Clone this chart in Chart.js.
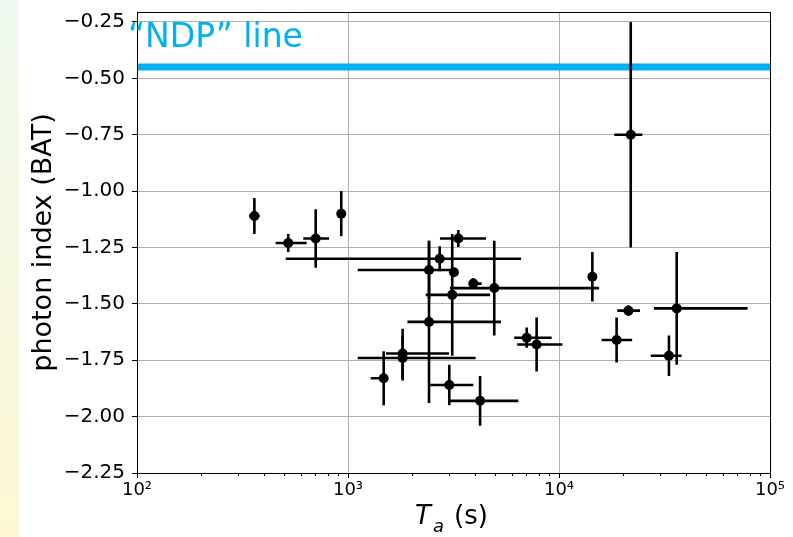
<!DOCTYPE html>
<html>
<head>
<meta charset="utf-8">
<script src="https://cdn.jsdelivr.net/npm/chart.js@4.4.1/dist/chart.umd.min.js"></script>
<style>
body { margin: 0; background: #fff; }
#wrap { position: relative; width: 793px; height: 537px; }
#strip { position: absolute; left: 0; top: 0; width: 19px; height: 537px; background: linear-gradient(#eff9ef, #fef8d4); }
</style>
</head>
<body>
<div id="wrap">
  <canvas id="chart1" width="793" height="537"></canvas>
  <div id="strip"></div>
</div>
<script>
// T_a (s), with the ends of the horizontal error bars
const tA    = [360, 521, 703, 929, 2720, 2421, 2421, 3177, 3119, 3334, 3926, 4934, 1815, 1815, 1476, 3020, 4227, 14390, 21330, 36130, 7030, 7833, 18750, 33190, 21880];
const tLow  = [340, 454, 614, 929, 507, 1112, 1913, 3100, 2335, 2728, 3742, 3041, 1514, 1112, 1282, 2449, 3020, 14100, 18870, 28170, 6135, 6339, 15910, 27230, 18270];
const tHigh = [381, 637, 813, 929, 6607, 3214, 5310, 3260, 4713, 4508, 4302, 15490, 3013, 4026, 1542, 3928, 6413, 14700, 24200, 78300, 9228, 10380, 22220, 38110, 24830];
// photon index (BAT) and its symmetric error
const photonIndex = [-1.11, -1.23, -1.21, -1.10, -1.30, -1.35, -1.58, -1.36, -1.46, -1.21, -1.41, -1.43, -1.72, -1.74, -1.83, -1.86, -1.93, -1.38, -1.53, -1.52, -1.65, -1.68, -1.66, -1.73, -0.75];
const indexErr    = [0.08, 0.04, 0.13, 0.10, 0.055, 0.13, 0.36, 0.02, 0.27, 0.038, 0.024, 0.21, 0.11, 0.10, 0.12, 0.09, 0.11, 0.11, 0.024, 0.25, 0.045, 0.12, 0.10, 0.09, 0.5];

const ndpIndex = -0.45;
const xTickValues = [100, 1000, 10000, 100000];
const yTickValues = [-2.25, -2.0, -1.75, -1.5, -1.25, -1.0, -0.75, -0.5, -0.25];
const supers = { 2: '\u00b2', 3: '\u00b3', 4: '\u2074', 5: '\u2075' };

const FONT = '"DejaVu Sans", sans-serif';
const NDP_BLUE = '#00b0f0';

// error bars drawn after the NDP line and before the markers
const errorBars = {
    id: 'errorBars',
    afterDatasetDraw(chart, args) {
        if (args.index !== 0) return;
        const ctx = chart.ctx;
        const xs = chart.scales.x, ys = chart.scales.y;
        ctx.save();
        ctx.strokeStyle = '#000';
        ctx.lineWidth = 2.6;
        for (let i = 0; i < tA.length; i++) {
            const px = xs.getPixelForValue(tA[i]);
            const py = ys.getPixelForValue(photonIndex[i]);
            ctx.beginPath();
            ctx.moveTo(xs.getPixelForValue(tLow[i]), py);
            ctx.lineTo(xs.getPixelForValue(tHigh[i]), py);
            ctx.moveTo(px, ys.getPixelForValue(photonIndex[i] - indexErr[i]));
            ctx.lineTo(px, ys.getPixelForValue(photonIndex[i] + indexErr[i]));
            ctx.stroke();
        }
        ctx.restore();
    }
};

// frame, minor ticks, x title and the NDP label
const decorations = {
    id: 'decorations',
    afterDraw(chart) {
        const ctx = chart.ctx;
        const a = chart.chartArea;
        const xs = chart.scales.x;
        ctx.save();
        ctx.strokeStyle = '#000';
        ctx.lineWidth = 1;
        ctx.strokeRect(Math.round(a.left) + 0.5, Math.round(a.top) + 0.5, Math.round(a.right - a.left), Math.round(a.bottom - a.top));

        ctx.beginPath();
        for (let d = 100; d < 100000; d *= 10) {
            for (let m = 2; m <= 9; m++) {
                const px = Math.round(xs.getPixelForValue(m * d)) + 0.5;
                ctx.moveTo(px, a.bottom);
                ctx.lineTo(px, a.bottom + 3);
            }
        }
        ctx.stroke();

        ctx.fillStyle = '#000';
        ctx.textBaseline = 'alphabetic';
        ctx.font = 'italic 26px ' + FONT;
        ctx.fillText('T', 415, 524);
        ctx.font = 'italic 18px ' + FONT;
        ctx.fillText('a', 433, 532);
        ctx.font = '26px ' + FONT;
        ctx.fillText('(s)', 454, 524);

        ctx.fillStyle = NDP_BLUE;
        ctx.font = '33px ' + FONT;
        ctx.fillText('\u201cNDP\u201d line', a.left - 9, 47);
        ctx.restore();
    }
};

const ctx = document.getElementById('chart1').getContext('2d');
const chart = new Chart(ctx, {
    data: {
        datasets: [{
            type: 'line',
            data: [{ x: 100, y: ndpIndex }, { x: 100000, y: ndpIndex }],
            borderColor: NDP_BLUE,
            borderWidth: 7,
            pointRadius: 0,
            order: 2
        }, {
            type: 'scatter',
            data: tA.map((t, i) => ({ x: t, y: photonIndex[i] })),
            backgroundColor: '#000',
            borderWidth: 0,
            pointRadius: 5,
            order: 1
        }]
    },
    options: {
        responsive: false,
        animation: false,
        layout: { padding: { top: 12, right: 23, left: 0, bottom: 0 } },
        plugins: { legend: { display: false }, tooltip: { enabled: false } },
        scales: {
            x: {
                type: 'logarithmic',
                min: 100,
                max: 100000,
                afterBuildTicks(scale) { scale.ticks = xTickValues.map(v => ({ value: v })); },
                afterFit(scale) {
                    scale.height = 64;
                    scale.paddingLeft = 0;
                    scale.paddingRight = 0;
                },
                ticks: {
                    autoSkip: false,
                    maxRotation: 0,
                    padding: 2,
                    color: '#000',
                    font: { family: FONT, size: 18 },
                    callback: v => '10' + supers[Math.round(Math.log10(v))]
                },
                grid: { color: '#b0b0b0', tickColor: '#000', tickLength: 5 },
                border: { display: true, color: '#000' }
            },
            y: {
                min: -2.25,
                max: -0.2057,
                afterBuildTicks(scale) { scale.ticks = yTickValues.map(v => ({ value: v })); },
                afterFit(scale) {
                    scale.width = 137;
                    scale.paddingTop = 0;
                    scale.paddingBottom = 0;
                },
                ticks: {
                    padding: 7,
                    color: '#000',
                    font: { family: FONT, size: 20 },
                    callback: v => v.toFixed(2).replace('-', '\u2212')
                },
                grid: { color: '#b0b0b0', tickColor: '#000', tickLength: 5 },
                border: { display: true, color: '#000' },
                title: {
                    display: true,
                    text: 'photon index (BAT)',
                    color: '#000',
                    font: { family: FONT, size: 27 },
                    padding: { top: 28, bottom: 0 }
                }
            }
        }
    },
    plugins: [errorBars, decorations]
});
</script>
</body>
</html>
